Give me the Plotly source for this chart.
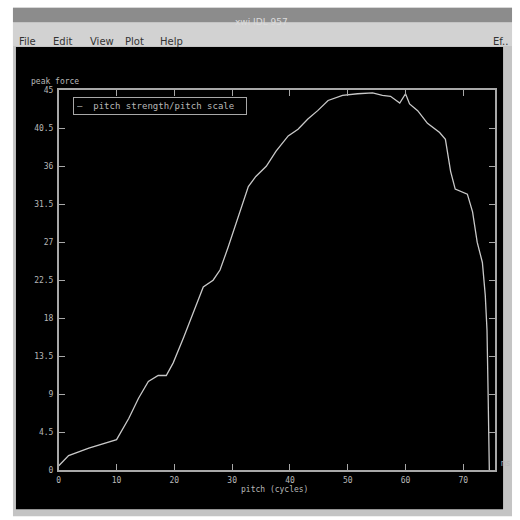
import plotly.graph_objects as go

# ---- data ----
pitch_x = [0, 1.7, 5.2, 10, 12.1, 13.8, 15.5, 17.2, 18.6, 19.8, 21.6, 23.3, 25, 26.7, 27.9,
           29.3, 31, 32.8, 34.1, 35.9, 37.6, 39.7, 41.4, 43.1, 44.8, 46.6, 49.1, 51.7, 54.3,
           56, 57.4, 59, 60, 60.7, 62.1, 63.8, 65.9, 66.9, 67.8, 68.6, 70.7, 71.6, 72.4,
           73.3, 73.8, 74.1, 74.3, 74.5, 74.5]
pitch_y = [0.5, 1.7, 2.6, 3.6, 6.1, 8.5, 10.5, 11.2, 11.2, 12.7, 15.7, 18.7, 21.7, 22.5, 23.7,
           26.4, 30, 33.6, 34.8, 36, 37.8, 39.6, 40.4, 41.6, 42.6, 43.8, 44.4, 44.6, 44.7,
           44.4, 44.3, 43.5, 44.6, 43.4, 42.6, 41.1, 40, 39.2, 35.4, 33.3, 32.7, 30.6, 27,
           24.6, 20.7, 16.6, 8.7, 0.7, 0]
x_ticks = [0, 10, 20, 30, 40, 50, 60, 70]
y_ticks = [0, 4.5, 9, 13.5, 18, 22.5, 27, 31.5, 36, 40.5, 45]
y_tick_labels = ["0", "4.5", "9", "13.5", "18", "22.5", "27", "31.5", "36", "40.5", "45"]
series_name = "pitch strength/pitch scale"
window_title = "xwi IDL 957"
menu_items = ["File", "Edit", "View", "Plot", "Help"]

W = H = 520


def px(x):
    return (x - 1) / W


def py(y):
    # compensate for the vertical placement observed in the rendered page
    return 1 - ((y - 4.2) / 0.976) / H


fig = go.Figure()
fig.add_trace(go.Scatter(x=pitch_x, y=pitch_y, mode="lines", name=series_name,
                         line=dict(color="#c8c8c8", width=1.3), showlegend=False))

axis_col = "#a8a8a8"
txt_col = "#b8b8b8"
font_ax = dict(family="DejaVu Sans Mono", size=8, color=txt_col)

fig.update_layout(
    width=W, height=H, autosize=False,
    margin=dict(l=0, r=0, t=0, b=0),
    paper_bgcolor="white", plot_bgcolor="black",
    showlegend=False,
    xaxis=dict(domain=[px(58), px(496)], range=[0, 75.5], tickvals=x_ticks,
               ticks="inside", ticklen=6, tickcolor=axis_col, showline=True,
               linecolor=axis_col, linewidth=1.5, mirror="ticks", showgrid=False,
               zeroline=False, tickfont=font_ax, anchor="y", ticklabelstandoff=2),
    yaxis=dict(domain=[py(467), py(90)], range=[0, 45], tickvals=y_ticks,
               ticktext=y_tick_labels, ticks="inside", ticklen=6, tickcolor=axis_col,
               showline=True, linecolor=axis_col, linewidth=1.5, mirror="ticks",
               showgrid=False, zeroline=False, tickfont=font_ax, anchor="x",
               ticklabelstandoff=2),
)

shapes = [
    dict(type="rect", xref="paper", yref="paper", x0=px(12), x1=px(513), y0=py(513), y1=py(8),
         fillcolor="#c4c4c4", line=dict(width=0), layer="below"),
    dict(type="rect", xref="paper", yref="paper", x0=px(12), x1=px(513), y0=py(22), y1=py(8),
         fillcolor="#8c8c8c", line=dict(width=0), layer="below"),
    dict(type="rect", xref="paper", yref="paper", x0=px(12), x1=px(513), y0=py(46), y1=py(23),
         fillcolor="#d2d2d2", line=dict(width=0), layer="below"),
    dict(type="rect", xref="paper", yref="paper", x0=px(15), x1=px(504), y0=py(506), y1=py(47),
         fillcolor="black", line=dict(width=0), layer="below"),
]
fig.update_layout(shapes=shapes)

ann = [
    dict(text=window_title, x=px(262), y=py(15), xref="paper", yref="paper", showarrow=False,
         font=dict(family="DejaVu Sans", size=9, color="#dcdcdc")),
    dict(text="peak force", x=px(28), y=py(75), xref="paper", yref="paper", showarrow=False,
         xanchor="left", font=font_ax),
    dict(text="pitch (cycles)", x=px(275), y=py(493), xref="paper", yref="paper",
         showarrow=False, font=font_ax),
    dict(text="ms", x=px(500), y=py(467), xref="paper", yref="paper", showarrow=False,
         xanchor="left", font=font_ax),
    dict(text="Ef..", x=px(511), y=py(34), xref="paper", yref="paper", showarrow=False,
         xanchor="right", font=dict(family="DejaVu Sans", size=10, color="#333")),
    # legend box
    dict(text="\u2014  " + series_name, x=px(72), y=py(106), xref="paper", yref="paper",
         showarrow=False, xanchor="left", yanchor="middle", align="left",
         width=166, bgcolor="black", bordercolor=axis_col, borderwidth=1, borderpad=3,
         font=dict(family="DejaVu Sans Mono", size=9, color=txt_col)),
]
mx = [16, 50, 87, 122, 158]
for m, x0 in zip(menu_items, mx):
    ann.append(dict(text=m, x=px(x0), y=py(34), xref="paper", yref="paper", showarrow=False,
                    xanchor="left", font=dict(family="DejaVu Sans", size=10, color="#333")))
fig.update_layout(annotations=ann)

fig.write_html("out.html",
               config={"displayModeBar": False, "responsive": False},
               post_script="document.documentElement.style.margin='0';"
                           "document.documentElement.style.overflow='hidden';"
                           "document.body.style.margin='0';"
                           "document.body.style.padding='0';"
                           "document.body.style.overflow='hidden';")
